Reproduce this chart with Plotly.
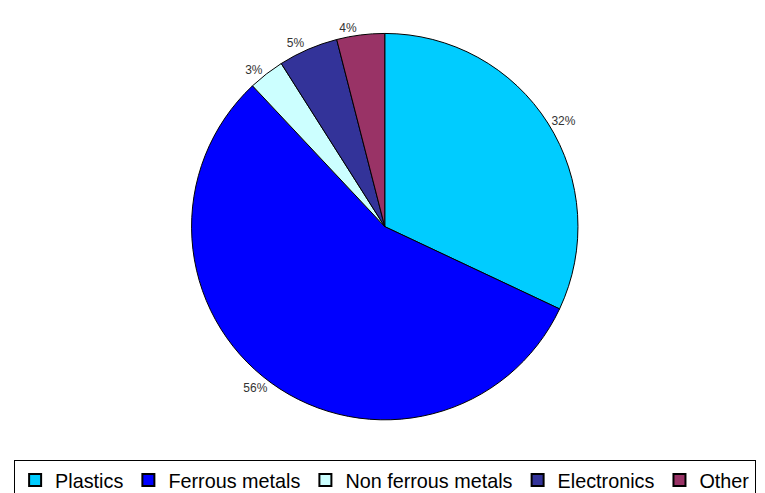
import plotly.graph_objects as go

categories = ["Plastics", "Ferrous metals", "Non ferrous metals", "Electronics", "Other"]
values = [32, 56, 3, 5, 4]
colors = ["#00CCFF", "#0000FF", "#CCFFFF", "#333399", "#993366"]

label_font = dict(family="Liberation Sans, Arial", size=12, color="#333333")

fig = go.Figure(go.Pie(
    labels=categories,
    values=values,
    sort=False,
    direction="clockwise",
    rotation=0,
    marker=dict(colors=colors, line=dict(color="#000000", width=1)),
    textinfo="percent",
    texttemplate="%{percent:.0%}",
    textposition="outside",
    textfont=label_font,
    outsidetextfont=label_font,
    domain=dict(x=[0.1425, 0.8425], y=[0.142, 0.947]),
    showlegend=True,
))

fig.update_layout(
    width=765, height=493,
    margin=dict(l=0, r=0, t=0, b=0),
    paper_bgcolor="white",
    plot_bgcolor="white",
    font=dict(family="Liberation Sans, Arial", color="#000000"),
    legend=dict(
        orientation="h",
        x=0.008, xanchor="left",
        y=0.059, yanchor="top",
        bordercolor="#000000", borderwidth=1,
        font=dict(size=19.8, color="#000000"),
        itemsizing="constant",
    ),
)

fig.write_html("out.html")
